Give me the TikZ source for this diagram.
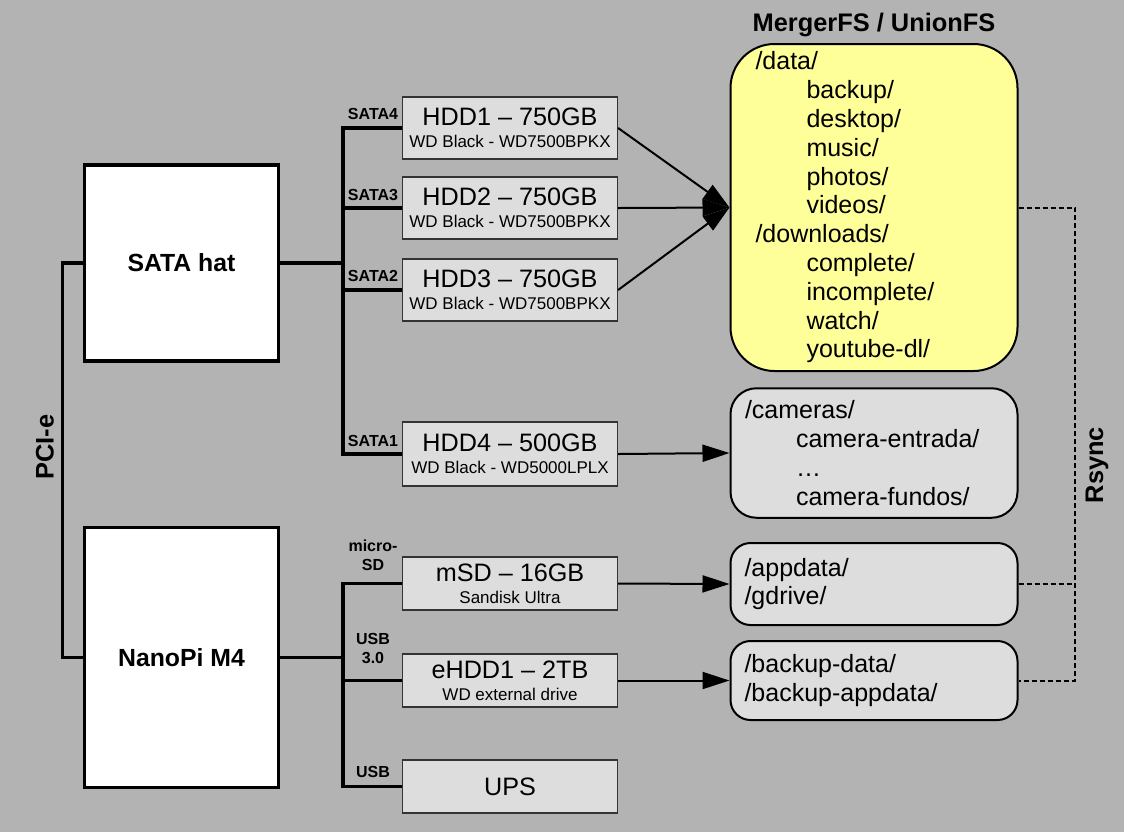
\documentclass[tikz,border=0pt]{standalone}
\usepackage{fontspec}
\setmainfont{Liberation Sans}
\usepackage{tikz}
\usetikzlibrary{
    arrows.meta,
    calc,
    positioning
}

\definecolor{bggray}{HTML}{B3B3B3}
\definecolor{diskgray}{HTML}{DDDDDD}
\definecolor{mergeryellow}{HTML}{FFFF99}

\newcommand{\bigtxt}{\fontsize{12.6}{11}\selectfont}
\newcommand{\smalltxt}{\fontsize{8.5}{10}\selectfont}
\newcommand{\dirtxt}{\fontsize{12.5}{14.4}\selectfont}
\newcommand{\dirin}{\hspace*{25.5pt}}

\tikzset{
    host/.style={draw, fill=white, line width=1.6pt, minimum width=97pt,
        font=\bfseries\fontsize{12.4}{14}\selectfont},
    disk/.style={draw=black!80, fill=diskgray, line width=0.6pt, align=center,
        font=\bigtxt, minimum width=107.5pt, inner sep=0pt},
    folder/.style={draw, fill=diskgray, line width=1pt, align=left,
        font=\dirtxt, inner ysep=2pt},
    bus/.style={line width=1.6pt},
    feed/.style={-{Triangle[length=13.5pt,width=8.5pt]}, line width=1pt},
    sync/.style={dash pattern=on 2.5pt off 1.5pt, line width=1pt},
    port/.style={font=\bfseries\fontsize{8}{9.5}\selectfont, align=center,
        anchor=south, inner sep=0pt},
    heading/.style={font=\bfseries\fontsize{12.7}{14}\selectfont}
}

\begin{document}
\begin{tikzpicture}[x=0.5pt, y=-0.5pt]
    \fill[bggray] (0,0) rectangle (1124,832);
    \useasboundingbox (0,0) rectangle (1124,832);

    % hosts
    \node[host, minimum height=98pt] (hat) at (181.5,263) {SATA hat};
    \node[host, minimum height=130pt] (pi) at (181.5,657.5) {NanoPi M4};
    \node[heading, rotate=90] (pcie) at (45,447) {PCI-e};

    % drives
    \node[disk, minimum height=31pt] (hdd1) at (510,128) {HDD1 – 750GB\\{\smalltxt WD Black - WD7500BPKX}};
    \node[disk, minimum height=31pt] (hdd2) at (510,208) {HDD2 – 750GB\\{\smalltxt WD Black - WD7500BPKX}};
    \node[disk, minimum height=31pt] (hdd3) at (510,290) {HDD3 – 750GB\\{\smalltxt WD Black - WD7500BPKX}};
    \node[disk, minimum height=32pt] (hdd4) at (510,454) {HDD4 – 500GB\\{\smalltxt WD Black - WD5000LPLX}};
    \node[disk, minimum height=26.5pt] (msd) at (510,583.5) {mSD – 16GB\\{\smalltxt Sandisk Ultra}};
    \node[disk, minimum height=26.5pt] (ehdd) at (510,680.5) {eHDD1 – 2TB\\{\smalltxt WD external drive}};
    \node[disk, minimum height=26.5pt] (ups) at (510,786.5) {UPS};

    % ports
    \node[port] (p4) at (373,120) {SATA4};
    \node[port] (p3) at (373,201) {SATA3};
    \node[port] (p2) at (373,282) {SATA2};
    \node[port] (p1) at (373,447) {SATA1};
    \node[port] (psd) at (373,571) {micro-\\SD};
    \node[port] (pusb3) at (373,664) {USB\\3.0};
    \node[port] (pusb) at (373,778) {USB};

    % folders
    \node[heading] (title) at (874,24.5) {MergerFS / UnionFS};
    \node[folder, fill=mergeryellow, rounded corners=22pt, inner xsep=12.5pt,
        text width=118.5pt, minimum height=163.5pt] (merger) at (874,207.5)
        {/data/\\\dirin backup/\\\dirin desktop/\\\dirin music/\\\dirin photos/\\\dirin videos/\\
         /downloads/\\\dirin complete/\\\dirin incomplete/\\\dirin watch/\\\dirin youtube-dl/};
    \node[folder, rounded corners=13pt, inner xsep=7.25pt, text width=129pt,
        minimum height=64.75pt] (cams) at (874,453)
        {/cameras/\\\dirin camera-entrada/\\\dirin …\\\dirin camera-fundos/};
    \node[folder, rounded corners=10pt, inner xsep=7pt, text width=129.5pt,
        minimum height=41pt] (appdata) at (874,584) {/appdata/\\/gdrive/};
    \node[folder, rounded corners=10pt, inner xsep=7pt, text width=129.5pt,
        minimum height=39.5pt] (backup) at (874,680.5) {/backup-data/\\/backup-appdata/};
    \node[heading, rotate=90] (rsync) at (1097,465) {Rsync};

    \coordinate (px) at (62.5,0);
    \coordinate (bx) at (343,0);
    \coordinate (rx) at (1075,0);

    % buses
    \draw[bus] (hat.west) -- (hat.west -| px) -- (pi.west -| px) -- (pi.west);
    \draw[bus] (hdd1.west) -- (hdd1.west -| bx) -- (hdd4.west -| bx) -- (hdd4.west);
    \draw[bus] (msd.west) -- (msd.west -| bx) -- (ups.west -| bx) -- (ups.west);
    \draw[bus]
    (hat.east) -- (hat.east -| bx)
    (hdd2.west -| bx) -- (hdd2.west)
    (hdd3.west -| bx) -- (hdd3.west)
    (pi.east) -- (pi.east -| bx)
    (ehdd.west -| bx) -- (ehdd.west);

    \draw
    (hdd1.east) edge[feed] (merger.west)
    (hdd2.east) edge[feed] (merger.west)
    (hdd3.east) edge[feed] (merger.west)
    (hdd4.east) edge[feed] (cams.west)
    (msd.east) edge[feed] (appdata.west)
    (ehdd.east) edge[feed] (backup.west);

    % rsync
    \draw[sync] (merger.east) -- (merger.east -| rx) -- (backup.east -| rx) -- (backup.east);
    \draw[sync] (appdata.east) -- (appdata.east -| rx);
\end{tikzpicture}
\end{document}
